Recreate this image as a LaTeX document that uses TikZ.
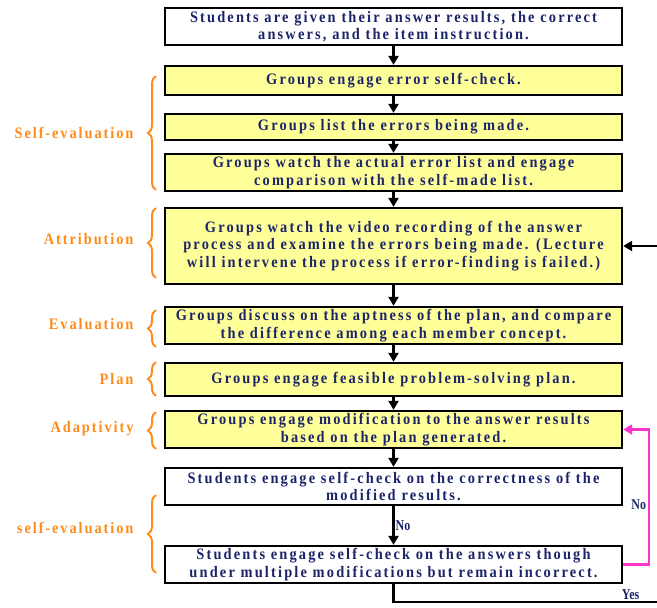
\documentclass[tikz,border=0pt]{standalone}
\usepackage{fontspec}
\setmainfont{Liberation Serif}
\newfontfamily\boxfont{Liberation Serif}[FakeStretch=0.9,LetterSpace=13.5]
\newfontfamily\phasefont{Liberation Serif}[FakeStretch=0.9,LetterSpace=12]
\newfontfamily\tagfont{Liberation Serif}[FakeStretch=0.8]
\usetikzlibrary{arrows.meta,decorations.pathreplacing}
\definecolor{navy}{HTML}{1B2469}
\definecolor{stepyellow}{HTML}{FFFF99}
\definecolor{phaseorange}{HTML}{FF8C1A}
\definecolor{loopmagenta}{HTML}{FF33CC}
\begin{document}
\begin{tikzpicture}[
  x=1pt, y=-1pt,
  box/.style={rectangle, draw, line width=2.4pt, minimum width=457pt, inner sep=0pt,
    font=\boxfont\bfseries\fontsize{16}{17.5}\selectfont, text=navy, align=center},
  fillbox/.style={box, fill=stepyellow},
  phase/.style={anchor=east, font=\phasefont\bfseries\fontsize{16}{17}\selectfont, text=phaseorange},
  bracket/.style={phaseorange, line width=2pt, decorate, decoration={brace, amplitude=8pt}},
  arrow/.style={-{Triangle[length=9pt,width=10pt]}, line width=2.2pt},
  loop/.style={-{Triangle[length=9pt,width=10pt]}, line width=2.2pt, loopmagenta},
  tag/.style={font=\tagfont\bfseries\fontsize{15}{16}\selectfont, text=navy, inner sep=1pt}
]
\useasboundingbox (0,0) rectangle (657,608);

\node[box, minimum height=37pt] (given) at (393.5,26.5) {Students are given their answer results, the correct\\answers, and the item instruction.};

\node[fillbox, minimum height=29pt] (check) at (393.5,80.5) {Groups engage error self-check.};
\node[fillbox, minimum height=26pt] (list) at (393.5,127) {Groups list the errors being made.};
\node[fillbox, minimum height=37pt] (compare) at (393.5,172.5) {Groups watch the actual error list and engage\\comparison with the self-made list.};

\node[fillbox, minimum height=76pt] (video) at (393.5,246) {Groups watch the video recording of the answer\\process and examine the errors being made. (Lecture\\will intervene the process if error-finding is failed.)};

\node[fillbox, minimum height=37pt] (discuss) at (393.5,325.5) {Groups discuss on the aptness of the plan, and compare\\the difference among each member concept.};
\node[fillbox, minimum height=33pt] (plan) at (393.5,379.5) {Groups engage feasible problem-solving plan.};
\node[fillbox, minimum height=37pt] (modify) at (393.5,429.5) {Groups engage modification to the answer results\\based on the plan generated.};

\node[box, minimum height=37pt] (selfcheck) at (393.5,486.5) {Students engage self-check on the correctness of the\\modified results.};
\node[box, minimum height=37pt] (remain) at (393.5,564.5) {Students engage self-check on the answers though\\under multiple modifications but remain incorrect.};

% Phase labels and braces
\node[phase] (lblself) at (137,133) {Self-evaluation};
\draw[bracket] (156,190) -- (156,76);
\node[phase] (lblattr) at (137,239) {Attribution};
\draw[bracket] (156,278) -- (156,208);
\node[phase] (lbleval) at (137,324) {Evaluation};
\draw[bracket] (156,347) -- (156,310);
\node[phase] (lblplan) at (137,379) {Plan};
\draw[bracket] (156,396) -- (156,362);
\node[phase] (lbladapt) at (137,429) {Adaptivity};
\draw[bracket] (156,449) -- (156,412);
\node[phase] (lblself2) at (137,528) {self-evaluation};
\draw[bracket] (156,573) -- (156,495);

% Main flow arrows
\draw[arrow] (given) -- (check);
\draw[arrow] (check) -- (list);
\draw[arrow] (list) -- (compare);
\draw[arrow] (compare) -- (video);
\draw[arrow] (video) -- (discuss);
\draw[arrow] (discuss) -- (plan);
\draw[arrow] (plan) -- (modify);
\draw[arrow] (modify) -- (selfcheck);
\draw[arrow] (selfcheck) -- node[tag, right] {No} (remain);

% Loops
\coordinate (edge) at (657,602);
\draw[arrow] (edge |- video.east) -- (video.east);
\draw[loop] (remain.east) -- ++(26,0) |- node[tag, pos=0.22, left, xshift=-1pt] {No} (modify.east);
\draw[line width=2.2pt] (remain.south) |- node[tag, pos=0.95, above] {Yes} (edge);

\end{tikzpicture}
\end{document}
